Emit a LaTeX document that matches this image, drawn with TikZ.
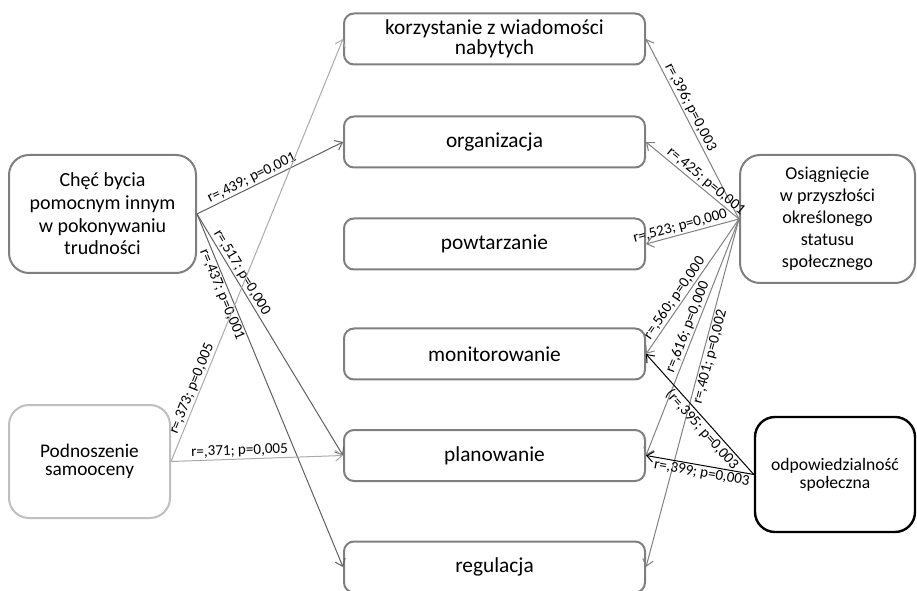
\documentclass[tikz,border=0pt]{standalone}
\usepackage{fontspec}
\setmainfont{Carlito}
\usetikzlibrary{arrows.meta}
\definecolor{boxgray}{RGB}{127,127,127}
\definecolor{palebox}{RGB}{191,191,191}
\definecolor{darkline}{RGB}{96,96,96}
\definecolor{midline}{RGB}{128,128,128}
\definecolor{paleline}{RGB}{170,170,170}

\begin{document}
\begin{tikzpicture}[x=0.75pt,y=-0.75pt,
  midbox/.style={draw=boxgray,line width=1.5pt,rounded corners=7.5pt,minimum width=225.75pt,minimum height=38.25pt,align=center,inner sep=2pt,font=\fontsize{16}{13.5}\selectfont},
  sidebox/.style={draw=boxgray,line width=1.5pt,rounded corners=15pt,align=center,inner sep=2pt},
  conn/.style={line width=0.75pt,-{Straight Barb[length=5pt,width=8pt]}},
  lab/.style={font=\fontsize{11.3}{12}\selectfont,text=black,sloped,inner sep=1pt}]
\path[use as bounding box] (0,0) rectangle (917,591);

% middle column
\node[midbox] (korzyst) at (494.5,39) {korzystanie z wiadomości\\nabytych};
\node[midbox] (organiz) at (494.5,142) {organizacja};
\node[midbox] (powtarz) at (494.5,244) {powtarzanie};
\node[midbox] (monitor) at (494.5,354) {monitorowanie};
\node[midbox] (planow) at (494.5,455.5) {planowanie};
\node[midbox] (regul) at (494.5,567) {regulacja};

% left column
\node[sidebox,minimum width=140.25pt,minimum height=88.5pt,font=\fontsize{15}{17}\selectfont] (checbycia) at (102.5,214) {Chęć bycia\\pomocnym innym\\w pokonywaniu\\trudności};
\node[sidebox,draw=palebox,minimum width=120.75pt,minimum height=84.75pt,font=\fontsize{14.5}{14}\selectfont] (samoocena) at (89.5,461.5) {Podnoszenie\\samooceny};

% right column
\node[sidebox,minimum width=131.25pt,minimum height=96pt,font=\fontsize{13.6}{16.5}\selectfont] (status) at (827.5,219) {Osiągnięcie\\w przyszłości\\określonego\\statusu\\społecznego};
\node[sidebox,draw=black,line width=1.8pt,minimum width=120pt,minimum height=86.25pt,font=\fontsize{13.2}{13.5}\selectfont] (odpow) at (835,474.5) {odpowiedzialność\\społeczna};

% connectors from the left
\draw[conn,darkline] (checbycia.east) -- node[lab,pos=0.40,above]{r=,439; p=0,001} (organiz.west);
\draw[conn,darkline] (checbycia.east) -- node[lab,pos=0.26,above]{r=,517; p=0,000} (planow.west);
\draw[conn,darkline] (checbycia.east) -- node[lab,pos=0.22,below]{r=,437; p=0,001} (regul.west);
\draw[conn,paleline] (samoocena.east) -- node[lab,pos=0.165,above]{r=,373; p=0,005} (korzyst.west);
\draw[conn,paleline] (samoocena.east) -- node[lab,pos=0.40,above]{r=,371; p=0,005} (planow.west);

% connectors from the right
\draw[conn,midline] (status.west) -- node[lab,pos=0.60,above]{r=,396; p=0,003} (korzyst.east);
\draw[conn,midline] (status.west) -- node[lab,pos=0.41,above]{r=,425; p=0,001} (organiz.east);
\draw[conn,midline] (status.west) -- node[lab,pos=0.61,above]{r=,523; p=0,000} (powtarz.east);
\draw[conn,midline] (status.west) -- node[lab,pos=0.62,above]{r=,560; p=0,000} (monitor.east);
\draw[conn,midline] (status.west) -- node[lab,pos=0.47,above]{r=,616; p=0,000} (planow.east);
\draw[conn,midline] (status.west) -- node[lab,pos=0.39,below]{r=,401; p=0,002} (regul.east);
\draw[conn,black] (odpow.west) -- node[lab,pos=0.42,below]{(r=,395; p=0,003} (monitor.east);
\draw[conn,black] (odpow.west) -- node[lab,pos=0.47,below]{r=,399; p=0,003} (planow.east);

\end{tikzpicture}
\end{document}
